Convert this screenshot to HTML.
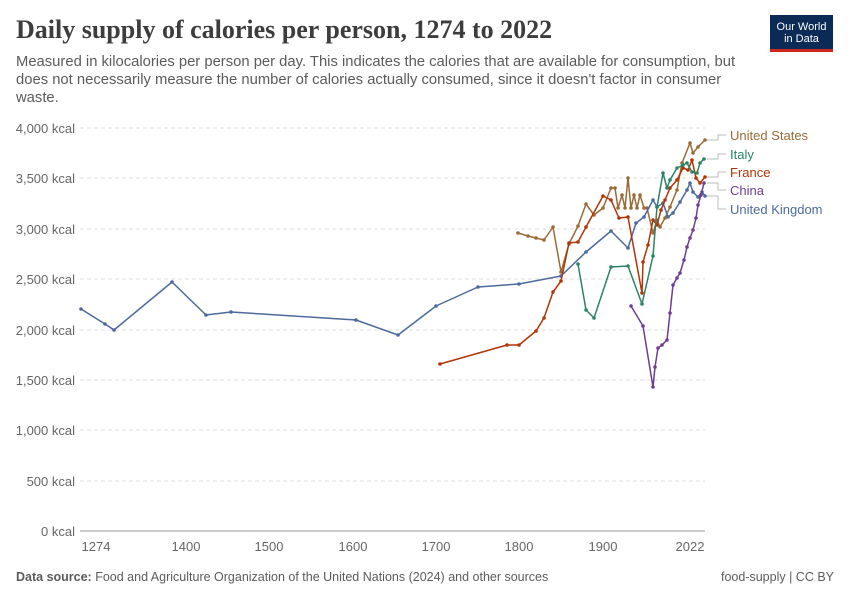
<!DOCTYPE html>
<html><head><meta charset="utf-8"><style>
body{margin:0;background:#fff;width:850px;height:600px;overflow:hidden;font-family:"Liberation Sans",sans-serif;position:relative}
.t{position:absolute;left:16px;top:15px;font-family:"Liberation Serif",serif;font-size:26px;font-weight:bold;color:#3d3d3d}
.s{position:absolute;left:16px;top:53px;width:740px;font-size:14.8px;line-height:18px;color:#5b5b5b}
.logo{position:absolute;left:770px;top:15px;width:63px;height:37px;background:#0b2a55;color:#fff;font-size:11px;line-height:12px;text-align:center;padding-top:6px;box-sizing:border-box;border-bottom:3px solid #ce261e}
.f{position:absolute;top:570px;font-size:12.5px;color:#5b5b5b}
</style></head><body>
<div class="t">Daily supply of calories per person, 1274 to 2022</div>
<div class="s">Measured in kilocalories per person per day. This indicates the calories that are available for consumption, but does not necessarily measure the number of calories actually consumed, since it doesn't factor in consumer waste.</div>
<div class="logo">Our World<br>in Data</div>
<svg width="850" height="600" style="position:absolute;left:0;top:0" font-family="Liberation Sans,sans-serif">
<defs>
<marker id="mb" markerWidth="4" markerHeight="4" refX="2" refY="2" markerUnits="userSpaceOnUse"><circle cx="2" cy="2" r="1.8" fill="#9a6b37"/></marker>
<marker id="mu" markerWidth="4" markerHeight="4" refX="2" refY="2" markerUnits="userSpaceOnUse"><circle cx="2" cy="2" r="1.8" fill="#4c6a9c"/></marker>
<marker id="mf" markerWidth="4" markerHeight="4" refX="2" refY="2" markerUnits="userSpaceOnUse"><circle cx="2" cy="2" r="1.8" fill="#b13507"/></marker>
<marker id="mi" markerWidth="4" markerHeight="4" refX="2" refY="2" markerUnits="userSpaceOnUse"><circle cx="2" cy="2" r="1.8" fill="#2c8465"/></marker>
<marker id="mc" markerWidth="4" markerHeight="4" refX="2" refY="2" markerUnits="userSpaceOnUse"><circle cx="2" cy="2" r="1.8" fill="#6d3e91"/></marker>
</defs>
<g stroke="#ddd" stroke-dasharray="4,3">
<line x1="80" x2="705" y1="128" y2="128"/><line x1="80" x2="705" y1="178" y2="178"/><line x1="80" x2="705" y1="229" y2="229"/><line x1="80" x2="705" y1="279" y2="279"/><line x1="80" x2="705" y1="330" y2="330"/><line x1="80" x2="705" y1="380" y2="380"/><line x1="80" x2="705" y1="430" y2="430"/><line x1="80" x2="705" y1="481" y2="481"/></g>
<line x1="80" x2="705" y1="531" y2="531" stroke="#999"/>
<g font-size="13" fill="#666" text-anchor="end">
<text x="75" y="133">4,000 kcal</text><text x="75" y="183">3,500 kcal</text><text x="75" y="234">3,000 kcal</text><text x="75" y="284">2,500 kcal</text><text x="75" y="335">2,000 kcal</text><text x="75" y="385">1,500 kcal</text><text x="75" y="435">1,000 kcal</text><text x="75" y="486">500 kcal</text><text x="75" y="536">0 kcal</text></g>
<g font-size="13" fill="#666" text-anchor="middle">
<text x="96" y="551">1274</text><text x="186" y="551">1400</text><text x="269" y="551">1500</text><text x="353" y="551">1600</text><text x="436" y="551">1700</text><text x="519" y="551">1800</text><text x="603" y="551">1900</text><text x="690" y="551">2022</text></g>
<g fill="none" stroke-width="1.5" stroke-linejoin="round">
<polyline stroke="#9a6b37" marker-start="url(#mb)" marker-mid="url(#mb)" marker-end="url(#mb)" points="518,233 528,236 536,238 544,240 553,227 561,272 569,244 578,226 586,204 594,215 603,208 611,188 615,188 618,208 622,195 625,208 628,178 631,208 634,195 637,208 640,195 644,208 647,208 653,233 657,220 660,227 665,218 670,207 677,190 682,163 690,143 693,153 698,147 705,140"/>
<polyline stroke="#4c6a9c" marker-start="url(#mu)" marker-mid="url(#mu)" marker-end="url(#mu)" points="81,309 105,324 114,330 172,282 206,315 231,312 356,320 398,335 436,306 478,287 519,284 561,276 586,252 611,231 628,248 636,223 644,217 653,200 657,207 663,203 668,217 673,213 680,202 687,190 690,183 693,192 698,197 702,192 705,196"/>
<polyline stroke="#b13507" marker-start="url(#mf)" marker-mid="url(#mf)" marker-end="url(#mf)" points="440,364 507,345 519,345 536,331 544,318 553,292 561,281 569,243 578,242 586,227 603,196 611,200 619,218 628,217 642,293 643,262 648,245 653,220 657,225 661,210 665,200 670,188 677,180 683,168 688,170 692,160 696,178 700,183 705,177"/>
<polyline stroke="#2c8465" marker-start="url(#mi)" marker-mid="url(#mi)" marker-end="url(#mi)" points="578,264 586,310 594,318 611,267 628,266 642,304 653,256 657,207 663,173 667,188 670,180 677,168 683,165 687,163 692,172 697,173 700,163 704,159"/>
<polyline stroke="#6d3e91" marker-start="url(#mc)" marker-mid="url(#mc)" marker-end="url(#mc)" points="631,306 643,326 653,387 655,367 658,348 662,345 667,340 670,313 673,285 677,278 680,273 684,260 687,247 690,238 693,230 696,218 698,205 701,195 704,183"/>
</g>
<g stroke="#bbb" fill="none"><path d="M707,140 H718 V135 H726"/><path d="M707,159 H718 V154 H726"/><path d="M707,177 H718 V172 H726"/><path d="M707,183 H718 V190 H726"/><path d="M707,196 H718 V209 H726"/></g>
<g font-size="13">
<text x="730" y="140" fill="#9a6b37">United States</text><text x="730" y="159" fill="#2c8465">Italy</text><text x="730" y="177" fill="#b13507">France</text><text x="730" y="195" fill="#6d3e91">China</text><text x="730" y="214" fill="#4c6a9c">United Kingdom</text></g>
</svg>
<div class="f" style="left:16px"><b>Data source:</b> Food and Agriculture Organization of the United Nations (2024) and other sources</div>
<div class="f" style="right:16px">food-supply | CC BY</div>
</body></html>
